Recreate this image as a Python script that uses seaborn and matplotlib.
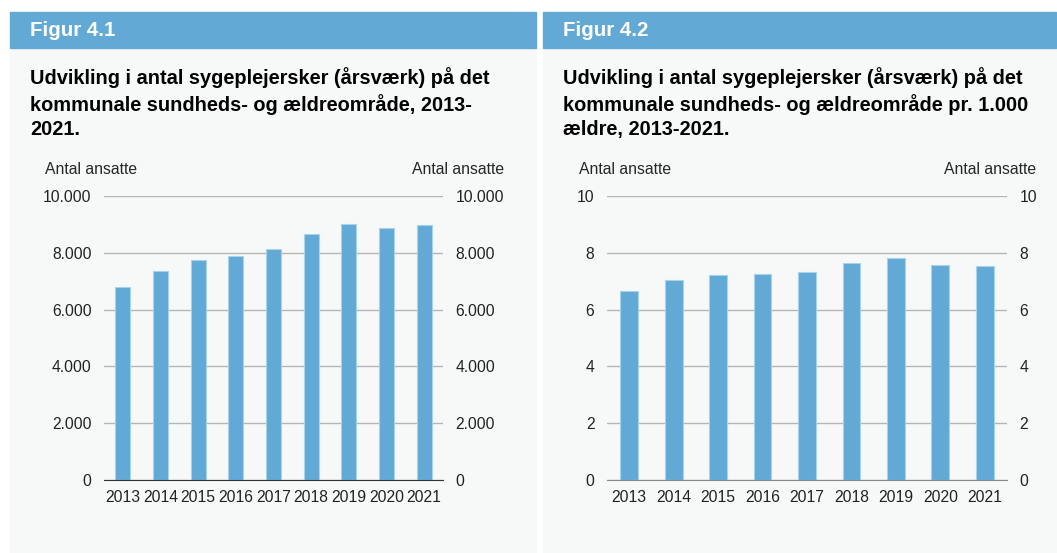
import matplotlib
matplotlib.use('Agg')
import matplotlib.pyplot as plt
import matplotlib.patches as mpatches
import pandas as pd
import seaborn as sns

# Data
years = ['2013', '2014', '2015', '2016', '2017', '2018', '2019', '2020', '2021']
nurses_total = [6800, 7350, 7740, 7890, 8125, 8650, 9005, 8865, 8970]
nurses_per_1000 = [6.67, 7.03, 7.23, 7.24, 7.33, 7.65, 7.82, 7.57, 7.52]

left_ticks = [0, 2000, 4000, 6000, 8000, 10000]
left_ticklabels = ['0', '2.000', '4.000', '6.000', '8.000', '10.000']
right_ticks = [0, 2, 4, 6, 8, 10]
right_ticklabels = ['0', '2', '4', '6', '8', '10']

fig_titles = ['Figur 4.1', 'Figur 4.2']
chart_titles = [
    'Udvikling i antal sygeplejersker (årsværk) på det\nkommunale sundheds- og ældreområde, 2013-\n2021.',
    'Udvikling i antal sygeplejersker (årsværk) på det\nkommunale sundheds- og ældreområde pr. 1.000\nældre, 2013-2021.',
]
unit_label = 'Antal ansatte'

BLUE = '#63a9d5'
PANEL = '#f7f9f9'
W, H = 1057, 553

sns.set_style('white')
plt.rcParams['font.family'] = ['Liberation Sans', 'DejaVu Sans']

fig = plt.figure(figsize=(W / 100, H / 100), dpi=100)
fig.patch.set_facecolor('white')


def px(x, y, w, h):
    # pixel box (top-left origin) -> figure fraction
    return [x / W, 1 - (y + h) / H, w / W, h / H]


def panel(x0, x1, head, title):
    fig.patches.append(mpatches.Rectangle((x0 / W, 0), (x1 - x0) / W, 1 - 48 / H,
                                          transform=fig.transFigure, color=PANEL, zorder=-2))
    fig.patches.append(mpatches.Rectangle((x0 / W, 1 - 48 / H), (x1 - x0) / W, 36 / H,
                                          transform=fig.transFigure, color=BLUE, zorder=-2))
    fig.text((x0 + 20) / W, 1 - 30.5 / H, head, color='white', fontsize=14.8,
             fontweight='bold', va='center', ha='left')
    fig.text((x0 + 20) / W, 1 - 67 / H, title, color='black', fontsize=14.4,
             fontweight='bold', va='top', ha='left', linespacing=1.36)


def bars(rect, values, ticks, ticklabels, ymax, spine_color, lab_left, lab_right):
    ax = fig.add_axes(px(*rect))
    df = pd.DataFrame({'year': years, 'value': values})
    sns.barplot(data=df, x='year', y='value', ax=ax, color=BLUE, width=0.4,
                saturation=1, edgecolor='#a9d2ec', linewidth=0.8, zorder=3)
    ax.set_facecolor('none')
    ax.set_ylim(0, ymax)
    ax.set_xlim(-0.5, len(years) - 0.5)
    ax.set_yticks(ticks)
    ax.set_yticklabels(ticklabels, fontsize=11.3, color='#222222')
    ax.grid(axis='y', color='#b5b5b5', linewidth=1, zorder=0)
    ax.set_xlabel('')
    ax.set_ylabel('')
    for s in ['top', 'left', 'right']:
        ax.spines[s].set_visible(False)
    ax.spines['bottom'].set_color(spine_color)
    ax.spines['bottom'].set_zorder(4)
    ax.tick_params(axis='y', length=0, pad=9)
    ax.tick_params(axis='x', which='major', length=0, labelsize=11.3, labelcolor='#222222', pad=7.5)
    ax.set_xticks([i - 0.5 for i in range(len(years) + 1)], minor=True)
    ax.tick_params(axis='x', which='minor', length=5, color=spine_color, direction='out')

    ax2 = ax.twinx()
    ax2.set_ylim(0, ymax)
    ax2.set_yticks(ticks)
    ax2.set_yticklabels(ticklabels, fontsize=11.3, color='#222222')
    ax2.tick_params(axis='y', length=0, pad=9)
    for s in ax2.spines.values():
        s.set_visible(False)

    fig.text(lab_left / W, 1 - 169 / H, unit_label, fontsize=11.3, va='center', ha='left')
    fig.text(lab_right / W, 1 - 169 / H, unit_label, fontsize=11.3, va='center', ha='right')
    return ax


panel(10, 536, fig_titles[0], chart_titles[0])
panel(543, 1056, fig_titles[1], chart_titles[1])

bars((104, 196, 339, 284), nurses_total, left_ticks, left_ticklabels, 10000, '#333333', 45, 504)
bars((607, 196, 400, 284), nurses_per_1000, right_ticks, right_ticklabels, 10, '#888888', 579, 1036)

fig.savefig('out.png', dpi=100)
